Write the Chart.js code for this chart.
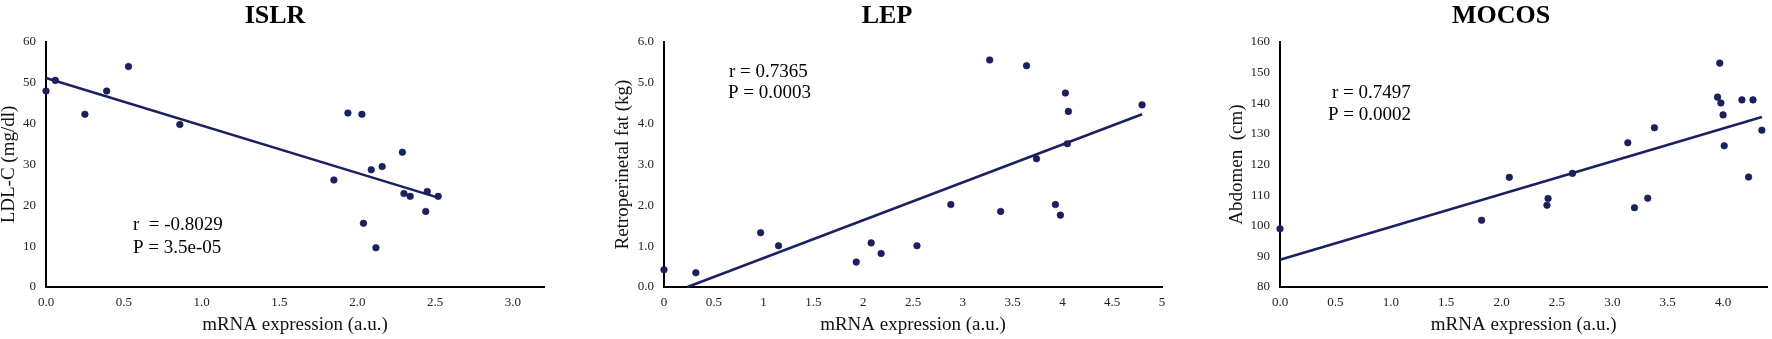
<!DOCTYPE html>
<html>
<head>
<meta charset="utf-8">
<script src="https://cdn.jsdelivr.net/npm/chart.js@4/dist/chart.umd.min.js"></script>
<style>
  html, body { margin: 0; padding: 0; background: #fff; }
  #wrap { position: relative; width: 1772px; height: 339px; overflow: hidden; }
  canvas { position: absolute; top: 0; }
</style>
</head>
<body>
<div id="wrap">
  <canvas id="c-islr" width="580" height="339" style="left:0px"></canvas>
  <canvas id="c-lep" width="586" height="339" style="left:614px"></canvas>
  <canvas id="c-mocos" width="544" height="339" style="left:1228px"></canvas>
</div>
<script>
// ISLR vs LDL-C
const islrX = [0.0, 0.06, 0.25, 0.39, 0.53, 0.86, 1.85, 1.94, 2.03, 2.04, 2.09, 2.16, 2.12, 2.29, 2.30, 2.34, 2.44, 2.45, 2.52];
const islrY = [48.0, 50.6, 42.3, 48.0, 54.0, 39.8, 26.2, 42.6, 42.3, 15.6, 28.7, 29.5, 9.6, 33.0, 22.9, 22.2, 18.5, 23.4, 22.2];
const islrFitX = [0, 2.52];
const islrFitY = [51.2, 21.9];
const islrXTicks = ["0.0", "0.5", "1.0", "1.5", "2.0", "2.5", "3.0"];
const islrYTicks = ["0", "10", "20", "30", "40", "50", "60"];

// LEP vs retroperinetal fat
const lepX = [0.0, 0.32, 0.97, 1.15, 1.93, 2.08, 2.18, 2.54, 2.88, 3.27, 3.38, 3.64, 3.74, 3.93, 3.98, 4.03, 4.06, 4.05, 4.80];
const lepY = [0.42, 0.35, 1.33, 1.01, 0.61, 1.08, 0.82, 1.01, 2.02, 5.56, 1.85, 5.42, 3.14, 2.02, 1.76, 4.75, 4.30, 3.51, 4.46];
const lepFitX = [0.235, 4.8];
const lepFitY = [0, 4.23];
const lepXTicks = ["0", "0.5", "1", "1.5", "2", "2.5", "3", "3.5", "4", "4.5", "5"];
const lepYTicks = ["0.0", "1.0", "2.0", "3.0", "4.0", "5.0", "6.0"];

// MOCOS vs abdomen
const mocosX = [0.0, 1.82, 2.07, 2.41, 2.42, 2.64, 3.14, 3.20, 3.32, 3.38, 3.95, 3.97, 3.98, 4.00, 4.01, 4.17, 4.23, 4.27, 4.35];
const mocosY = [99.0, 101.8, 115.8, 106.7, 108.9, 117.1, 127.1, 105.9, 109.0, 132.0, 142.0, 153.1, 140.1, 136.2, 126.1, 141.1, 115.9, 141.1, 131.2];
const mocosFitX = [0, 4.35];
const mocosFitY = [88.9, 135.5];
const mocosXTicks = ["0.0", "0.5", "1.0", "1.5", "2.0", "2.5", "3.0", "3.5", "4.0"];
const mocosYTicks = ["80", "90", "100", "110", "120", "130", "140", "150", "160"];

const NAVY = "#1b2060";
const SERIF = '"Liberation Serif", "Times New Roman", serif';

// 標題與 r / P 註記
const panelText = {
  id: "panelText",
  afterDraw(chart, args, opts) {
    const ctx = chart.ctx;
    ctx.save();
    ctx.fillStyle = "#000";
    ctx.textBaseline = "middle";
    ctx.textAlign = "center";
    ctx.font = "bold 26px " + SERIF;
    ctx.fillText(opts.title, opts.titleX, 16);
    ctx.textAlign = "left";
    ctx.font = "19px " + SERIF;
    opts.notes.forEach(n => ctx.fillText(n.text, n.x, n.y));
    ctx.restore();
  }
};

function toPoints(xs, ys) {
  return xs.map((x, i) => ({ x: x, y: ys[i] }));
}

function makePanel(id, p) {
  const axisFont = { family: SERIF, size: 19, lineHeight: 1 };
  const tickFont = { family: SERIF, size: 13 };
  new Chart(document.getElementById(id).getContext("2d"), {
    type: "scatter",
    data: {
      datasets: [
        {
          data: toPoints(p.x, p.y),
          backgroundColor: NAVY,
          borderColor: "#12154a",
          borderWidth: 0.6,
          pointRadius: 3.3,
          clip: false
        },
        {
          type: "line",
          data: toPoints(p.fitX, p.fitY),
          borderColor: NAVY,
          borderWidth: 2.5,
          pointRadius: 0,
          fill: false,
          clip: false
        }
      ]
    },
    options: {
      responsive: false,
      animation: false,
      layout: { padding: { top: 42, right: p.padRight, bottom: 0, left: 0 } },
      plugins: {
        legend: { display: false },
        tooltip: { enabled: false },
        panelText: { title: p.title, titleX: p.titleX, notes: p.notes }
      },
      scales: {
        x: {
          type: "linear",
          min: p.xMin, max: p.xMax,
          grid: { display: false, drawTicks: false },
          border: { display: true, color: "#000", width: 2 },
          afterBuildTicks: s => { s.ticks = p.xTicks.map(t => ({ value: parseFloat(t) })); },
          afterFit: s => { s.height = 52; },
          ticks: {
            padding: 8, color: "#222", font: tickFont, maxRotation: 0, autoSkip: false,
            callback: (v, i) => p.xTicks[i]
          },
          title: { display: true, text: "mRNA expression (a.u.)", color: "#111", font: axisFont, padding: { top: 0, bottom: 4.5 } }
        },
        y: {
          type: "linear",
          min: p.yMin, max: p.yMax,
          grid: { display: false, drawTicks: false },
          border: { display: true, color: "#000", width: 2 },
          afterBuildTicks: s => { s.ticks = p.yTicks.map(t => ({ value: parseFloat(t) })); },
          afterFit: s => { s.width = p.yWidth; },
          ticks: {
            padding: 10, color: "#222", font: tickFont, autoSkip: false,
            callback: (v, i) => p.yTicks[i]
          },
          title: { display: true, text: p.yTitle, color: "#111", font: axisFont, padding: { top: -0.5, bottom: 0 } }
        }
      }
    },
    plugins: [panelText]
  });
}

makePanel("c-islr", {
  x: islrX, y: islrY, fitX: islrFitX, fitY: islrFitY,
  xTicks: islrXTicks, yTicks: islrYTicks,
  xMin: 0, xMax: 3.2, yMin: 0, yMax: 60,
  yWidth: 46, padRight: 36,
  yTitle: "LDL-C (mg/dl)",
  title: "ISLR", titleX: 275,
  notes: [{ text: "r  = -0.8029", x: 133, y: 225 }, { text: "P = 3.5e-05", x: 133, y: 248 }]
});

makePanel("c-lep", {
  x: lepX, y: lepY, fitX: lepFitX, fitY: lepFitY,
  xTicks: lepXTicks, yTicks: lepYTicks,
  xMin: 0, xMax: 5, yMin: 0, yMax: 6,
  yWidth: 50, padRight: 38,
  yTitle: "Retroperinetal fat (kg)",
  title: "LEP", titleX: 273,
  notes: [{ text: "r = 0.7365", x: 115, y: 72 }, { text: "P = 0.0003", x: 114, y: 93 }]
});

makePanel("c-mocos", {
  x: mocosX, y: mocosY, fitX: mocosFitX, fitY: mocosFitY,
  xTicks: mocosXTicks, yTicks: mocosYTicks,
  xMin: 0, xMax: 4.4, yMin: 80, yMax: 160,
  yWidth: 52, padRight: 2,
  yTitle: "Abdomen  (cm)",
  title: "MOCOS", titleX: 273,
  notes: [{ text: "r = 0.7497", x: 104, y: 93 }, { text: "P = 0.0002", x: 100, y: 115 }]
});
</script>
</body>
</html>
